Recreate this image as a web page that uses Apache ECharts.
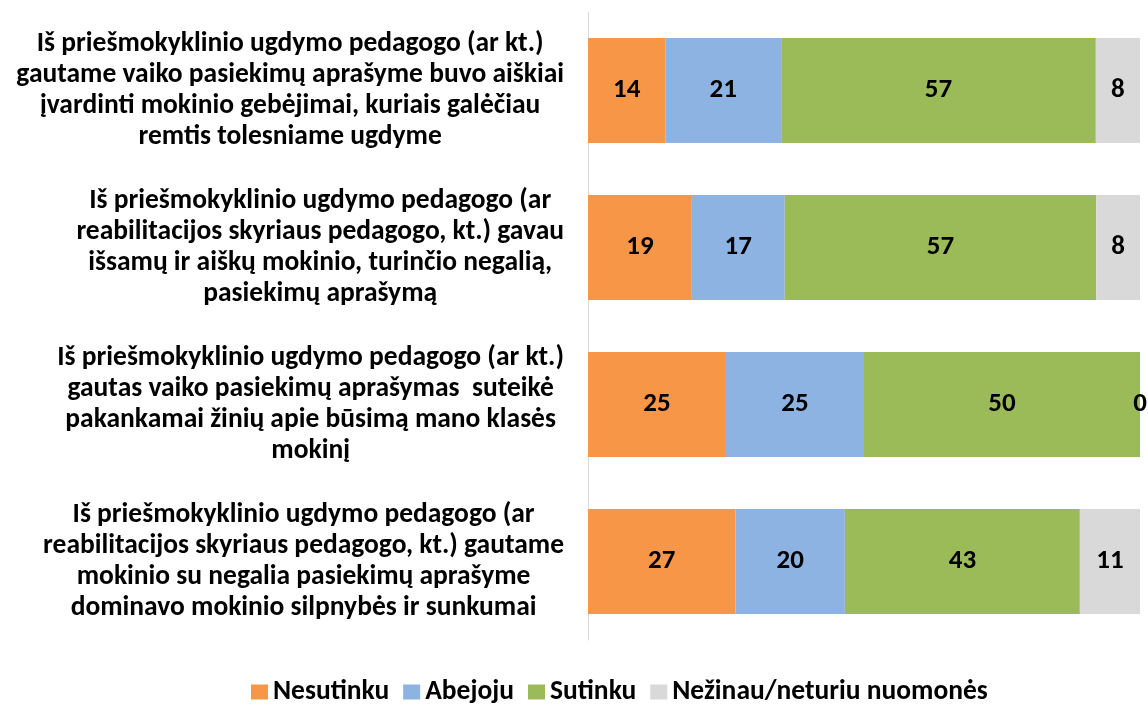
<!DOCTYPE html>
<html><head><meta charset="utf-8">
<script src="https://cdn.jsdelivr.net/npm/echarts@6/dist/echarts.min.js"></script>
<style>html,body{margin:0;padding:0;background:#fff}#c{width:1148px;height:711px}</style>
</head><body><div id="c"></div>
<script>
const categories = [
  "Iš priešmokyklinio ugdymo pedagogo (ar kt.)\ngautame vaiko pasiekimų aprašyme buvo aiškiai\nįvardinti mokinio gebėjimai, kuriais galėčiau\nremtis tolesniame ugdyme",
  "Iš priešmokyklinio ugdymo pedagogo (ar\nreabilitacijos skyriaus pedagogo, kt.) gavau\nišsamų ir aiškų mokinio, turinčio negalią,\npasiekimų aprašymą",
  "Iš priešmokyklinio ugdymo pedagogo (ar kt.)\ngautas vaiko pasiekimų aprašymas  suteikė\npakankamai žinių apie būsimą mano klasės\nmokinį",
  "Iš priešmokyklinio ugdymo pedagogo (ar\nreabilitacijos skyriaus pedagogo, kt.) gautame\nmokinio su negalia pasiekimų aprašyme\ndominavo mokinio silpnybės ir sunkumai"
];
const seriesNames = ["Nesutinku", "Abejoju", "Sutinku", "Nežinau/neturiu nuomonės"];
const nesutinku = [14, 19, 25, 27];
const abejoju = [21, 17, 25, 20];
const sutinku = [57, 57, 50, 43];
const nezinau = [8, 8, 0, 11];
const colors = ["#F79646", "#8DB3E2", "#9BBB59", "#D9D9D9"];

const raw = [nesutinku, abejoju, sutinku, nezinau];
const totals = categories.map((_, i) => raw.reduce((s, arr) => s + arr[i], 0));
const FONT = 'Carlito, Calibri, Lato, sans-serif';

const chart = echarts.init(document.getElementById('c'));
chart.setOption({
  animation: false,
  textStyle: { fontFamily: FONT },
  grid: { left: 588, right: 8, top: 12, bottom: 71, containLabel: false },
  legend: {
    bottom: 0, left: 246,
    itemWidth: 17, itemHeight: 15, itemGap: 14,
    icon: 'rect',
    textStyle: { fontFamily: FONT, fontWeight: 'bold', fontSize: 27.5, color: '#000' },
    data: seriesNames
  },
  xAxis: { type: 'value', min: 0, max: 100, show: false, splitLine: { show: false } },
  yAxis: {
    type: 'category', inverse: true, data: categories,
    axisLine: { show: true, lineStyle: { color: '#D9D9D9', width: 1 } },
    axisTick: { show: false },
    axisLabel: {
      margin: 24, align: 'right', color: '#000',
      formatter: v => v.split('\n').map(l => '{c|' + l + '}').join('\n'),
      rich: { c: { align: 'center', fontFamily: FONT, fontWeight: 'bold', fontSize: 27.5, lineHeight: 31, color: '#000' } }
    }
  },
  series: raw.map((arr, k) => ({
    name: seriesNames[k], type: 'bar', stack: 'total', barCategoryGap: '33%',
    itemStyle: { color: colors[k] },
    label: {
      show: true, position: 'inside', color: '#000', fontFamily: FONT, fontWeight: 'bold', fontSize: 27,
      formatter: p => String(arr[p.dataIndex])
    },
    data: arr.map((v, i) => v / totals[i] * 100)
  }))
});
</script></body></html>
